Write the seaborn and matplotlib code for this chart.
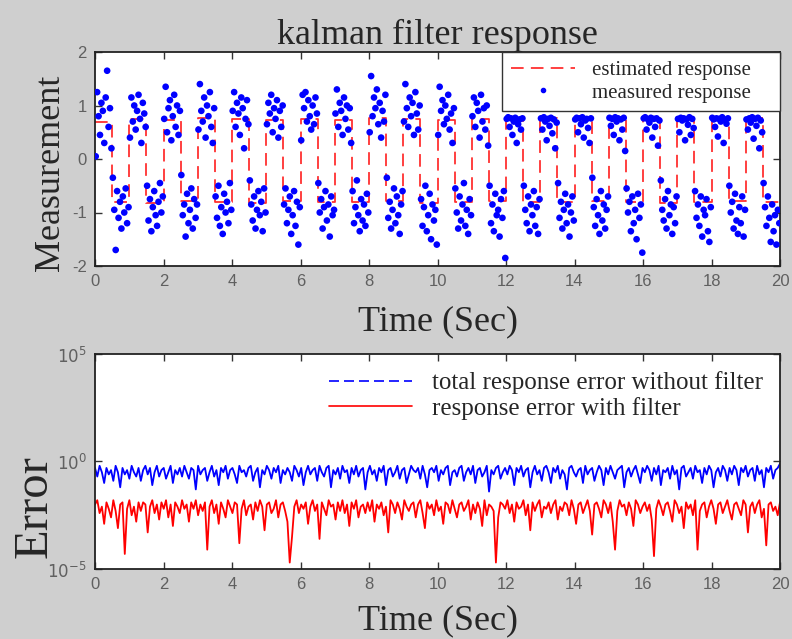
import numpy as np
import pandas as pd
import seaborn as sns
import matplotlib
matplotlib.use("Agg")
import matplotlib.pyplot as plt
from matplotlib.lines import Line2D

# ---------------- data ----------------
samples_per_sec = 24          # measured samples per second (top panel)
n_cycles = 20

# measured response, one row per 1-s cycle (12 samples high half, 12 samples low half)
meas_rows = [
    [0.05, 1.25, 0.80, 0.45, 1.05, 0.90, 0.30, 1.15, 1.65, 0.60, 0.95, 0.20, -0.35, -0.95, -1.70, -0.60, -1.10, -0.80, -1.30, -0.70, -1.00, -0.55, -1.20, -0.90],
    [0.40, 1.15, 0.70, 1.00, 0.55, 0.90, 1.20, 0.75, 0.30, 1.05, 0.85, 0.60, -0.50, -1.15, -0.75, -1.35, -0.90, -0.60, -1.05, -1.25, -0.80, -0.45, -1.00, -0.70],
    [0.75, 1.35, 0.50, 0.95, 1.10, 0.35, 0.80, 1.20, 0.60, 1.00, 0.45, 0.90, -0.30, -1.05, -0.85, -1.45, -0.65, -1.20, -0.95, -0.55, -1.30, -0.75, -1.10, -0.85],
    [0.55, 1.40, 0.90, 0.70, 1.15, 0.40, 1.00, 0.80, 1.25, 0.60, 0.30, 0.95, -0.70, -1.10, -0.50, -1.25, -0.90, -1.40, -0.65, -1.00, -0.80, -1.20, -0.45, -0.95],
    [0.90, 1.25, 0.60, 1.05, 0.85, 0.45, 1.15, 0.95, 0.20, 0.75, 1.10, 0.65, -0.40, -0.85, -1.15, -0.70, -1.30, -0.95, -0.60, -1.05, -0.80, -1.35, -0.55, -1.00],
    [0.65, 1.05, 0.85, 1.20, 0.50, 0.95, 0.75, 1.10, 0.40, 0.90, 0.60, 1.00, -0.85, -0.55, -1.20, -0.95, -0.70, -1.40, -1.05, -0.60, -1.25, -0.80, -1.60, -0.90],
    [0.35, 1.20, 0.95, 1.25, 0.70, 1.10, 0.80, 0.55, 1.00, 0.65, 1.15, 0.85, -0.45, -1.00, -0.75, -1.30, -0.90, -0.60, -1.15, -0.85, -1.45, -0.70, -1.05, -0.95],
    [0.85, 1.30, 0.60, 1.05, 0.90, 0.45, 1.15, 0.75, 1.00, 0.55, 0.95, 0.30, -0.60, -1.20, -0.90, -0.40, -1.05, -1.35, -0.75, -1.15, -0.85, -1.25, -0.65, -1.00],
    [0.50, 1.55, 0.80, 1.15, 0.95, 1.30, 0.65, 1.05, 0.40, 0.90, 0.70, 1.20, -0.35, -1.10, -0.80, -1.30, -0.95, -0.55, -1.20, -0.70, -1.05, -1.40, -0.85, -0.60],
    [0.70, 1.40, 0.95, 0.60, 1.15, 0.80, 1.05, 0.45, 1.25, 0.85, 0.55, 1.00, -0.75, -1.25, -0.90, -0.50, -1.35, -1.05, -0.65, -1.50, -0.85, -1.15, -0.95, -1.60],
    [0.45, 1.35, 0.90, 1.10, 0.65, 1.00, 0.75, 1.20, 0.55, 0.85, 0.30, 0.95, -0.55, -1.00, -1.30, -0.70, -1.15, -0.85, -0.45, -1.25, -0.95, -1.40, -0.75, -1.05],
    [0.80, 1.15, 0.60, 1.05, 0.90, 0.40, 1.20, 0.70, 0.95, 0.55, 1.00, 0.25, -0.50, -1.20, -0.85, -1.35, -0.65, -1.05, -0.95, -1.45, -0.75, -1.10, -0.60, -1.85],
    [0.75, 0.78, 0.60, 0.76, 0.45, 0.70, 0.77, 0.30, 0.65, 0.74, 0.55, 0.76, -0.50, -0.95, -1.20, -0.70, -1.35, -0.85, -1.05, -0.60, -1.25, -0.90, -1.40, -0.75],
    [0.76, 0.55, 0.78, 0.70, 0.35, 0.75, 0.62, 0.77, 0.48, 0.74, 0.20, 0.68, -0.45, -1.10, -0.80, -1.30, -0.95, -0.65, -1.20, -0.85, -1.45, -1.00, -0.70, -1.15],
    [0.74, 0.77, 0.50, 0.76, 0.65, 0.78, 0.40, 0.72, 0.75, 0.58, 0.30, 0.76, -0.35, -0.90, -1.25, -0.75, -1.05, -1.40, -0.60, -1.15, -0.85, -1.30, -0.95, -0.70],
    [0.77, 0.62, 0.75, 0.45, 0.78, 0.70, 0.76, 0.35, 0.74, 0.55, 0.77, 0.15, -0.55, -1.00, -0.80, -1.35, -0.70, -1.20, -0.95, -1.50, -0.65, -1.10, -0.85, -1.75],
    [0.76, 0.78, 0.55, 0.74, 0.68, 0.77, 0.40, 0.75, 0.60, 0.76, 0.25, 0.72, -0.40, -0.95, -1.15, -0.75, -1.30, -0.60, -1.05, -0.85, -1.40, -0.90, -1.20, -0.70],
    [0.75, 0.50, 0.77, 0.72, 0.76, 0.35, 0.74, 0.64, 0.78, 0.45, 0.75, 0.58, -0.60, -1.10, -0.85, -1.25, -0.70, -1.45, -0.95, -1.05, -0.75, -1.35, -1.55, -0.90],
    [0.77, 0.74, 0.60, 0.76, 0.42, 0.75, 0.70, 0.78, 0.30, 0.73, 0.66, 0.76, -0.50, -1.00, -0.80, -1.30, -0.65, -1.15, -1.40, -0.90, -1.20, -0.70, -1.45, -0.95],
    [0.74, 0.55, 0.76, 0.68, 0.78, 0.38, 0.75, 0.62, 0.77, 0.20, 0.72, 0.50, -0.45, -0.90, -1.25, -0.70, -1.10, -1.55, -0.85, -1.35, -1.05, -1.60, -0.95, -1.20],
]

# estimated response level for each half second
est_levels = [0.70, -0.80, 0.75, -0.82, 0.72, -0.78, 0.76, -0.80, 0.74, -0.83,
              0.73, -0.79, 0.75, -0.81, 0.72, -0.80, 0.76, -0.78, 0.74, -0.82,
              0.73, -0.80, 0.75, -0.79, 0.76, -0.80, 0.76, -0.81, 0.76, -0.79,
              0.76, -0.80, 0.76, -0.82, 0.76, -0.80, 0.76, -0.79, 0.76, -0.81]

# error (log10) without filter
err_nofilt_log = [
    -0.3, -0.7, -0.2, -0.5, -1.0, -0.3, -0.6, -0.4, -0.9, -0.2, -0.5, -1.2, -0.3, -0.6, -0.4, -0.8, -0.2, -0.5, -0.7, -0.3,
    -0.9, -0.4, -0.2, -0.6, -0.3, -1.1, -0.5, -0.2, -0.7, -0.4, -0.3, -0.8, -0.5, -0.2, -1.0, -0.4, -0.6, -0.3, -0.7, -0.2,
    -0.5, -0.8, -0.3, -0.4, -1.3, -0.2, -0.6, -0.4, -0.3, -0.9, -0.5, -0.2, -0.7, -0.4, -1.1, -0.3, -0.5, -0.2, -0.8, -0.4,
    -0.3, -0.6, -1.0, -0.2, -0.5, -0.4, -0.7, -0.3, -0.2, -0.9, -0.5, -0.3, -1.2, -0.4, -0.6, -0.2, -0.4, -0.8, -0.3, -0.5,
    -0.2, -1.0, -0.4, -0.6, -0.3, -0.5, -0.9, -0.2, -0.4, -0.7, -0.3, -1.1, -0.5, -0.2, -0.6, -0.4, -0.3, -0.9, -0.2, -0.5,
    -0.7, -0.3, -0.2, -1.2, -0.4, -0.6, -0.3, -0.8, -0.2, -0.5, -0.4, -1.0, -0.3, -0.6, -0.2, -0.7, -0.4, -0.3, -1.3, -0.5,
    -0.2, -0.6, -0.4, -0.9, -0.3, -0.5, -0.2, -1.1, -0.4, -0.3, -0.7, -0.5, -0.2, -0.8, -0.4, -0.3, -1.0, -0.6, -0.2, -0.4,
    -0.5, -0.3, -0.8, -0.2, -0.6, -1.2, -0.4, -0.3, -0.5, -0.2, -0.9, -0.4, -0.6, -0.3, -0.2, -1.1, -0.5, -0.4, -0.7, -0.3,
    -0.2, -0.9, -0.5, -0.3, -0.6, -0.2, -1.0, -0.4, -0.3, -0.7, -0.5, -0.2, -1.4, -0.4, -0.6, -0.3, -0.2, -0.8, -0.5, -0.3,
    -0.6, -0.2, -0.4, -1.1, -0.3, -0.5, -0.2, -0.7, -0.4, -0.3, -1.2, -0.5, -0.2, -0.6, -0.4, -0.9, -0.3, -0.2, -0.5, -1.0,
    -0.3, -0.5, -0.2, -0.8, -0.4, -0.6, -1.3, -0.3, -0.2, -0.5, -0.7, -0.4, -0.3, -1.0, -0.2, -0.6, -0.4, -0.3, -0.9, -0.5,
    -0.2, -0.4, -1.1, -0.3, -0.6, -0.2, -0.5, -0.8, -0.4, -0.3, -0.2, -1.2, -0.5, -0.3, -0.7, -0.4, -0.2, -0.6, -1.0, -0.3,
    -0.5, -0.2, -0.4, -0.9, -0.3, -0.6, -0.2, -1.1, -0.4, -0.5, -0.3, -0.8, -0.2, -0.6, -0.4, -1.3, -0.3, -0.2, -0.7, -0.5,
    -0.3, -0.8, -0.2, -0.5, -0.4, -1.0, -0.3, -0.6, -0.2, -0.4, -1.2, -0.5, -0.3, -0.7, -0.2, -0.4, -0.9, -0.3, -0.6, -0.2,
    -0.4, -1.1, -0.3, -0.5, -0.2, -0.7, -0.4, -0.3, -0.9, -0.2, -0.6, -0.4, -1.2, -0.3, -0.5, -0.2, -0.8, -0.4, -0.3, -0.1,
]

# error (log10) with filter
err_filt_log = [
    -2.0, -1.8, -2.4, -2.1, -2.9, -1.9, -2.2, -2.6, -1.8, -2.3, -3.1, -2.0, -1.9, -4.3, -2.2, -1.8, -2.5, -2.1, -2.8, -1.9,
    -2.3, -1.9, -2.0, -3.3, -2.1, -1.8, -2.4, -2.0, -2.7, -1.9, -2.2, -1.8, -2.6, -2.0, -3.0, -1.9, -2.1, -2.4, -1.8, -2.2,
    -2.0, -2.8, -1.9, -2.2, -1.8, -2.5, -2.0, -2.3, -1.9, -4.1, -2.1, -1.8, -2.4, -2.0, -2.9, -1.9, -2.2, -2.6, -1.8, -2.1,
    -2.4, -1.9, -2.0, -3.8, -2.2, -1.8, -2.5, -2.1, -2.0, -2.7, -1.9, -2.3, -1.8, -2.1, -3.2, -2.0, -1.9, -2.4, -2.2, -1.8,
    -2.6, -2.0, -1.9, -2.3, -2.8, -4.7, -3.5, -2.1, -1.8, -2.4, -2.0, -2.2, -1.9, -2.9, -2.1, -1.8, -2.3, -2.0, -3.6, -1.9,
    -2.2, -2.5, -1.8, -2.1, -2.0, -2.7, -1.9, -2.3, -1.8, -2.4, -2.0, -3.0, -1.9, -2.2, -1.8, -2.6, -2.1, -2.0, -2.4, -1.9,
    -2.3, -1.8, -2.8, -2.0, -2.2, -1.9, -2.5, -2.1, -3.3, -1.8, -2.0, -2.4, -1.9, -2.2, -2.7, -1.8, -2.1, -2.3, -2.0, -1.9,
    -2.6, -2.0, -1.8, -2.4, -3.1, -1.9, -2.2, -2.0, -2.5, -1.8, -2.3, -2.1, -2.9, -1.9, -2.0, -2.4, -1.8, -2.2, -2.6, -2.0,
    -1.9, -2.3, -2.1, -1.8, -2.7, -2.0, -2.4, -1.9, -2.2, -3.0, -1.8, -2.5, -2.0, -2.1, -2.3, -4.7, -2.6, -1.9, -2.0, -2.2,
    -1.8, -2.4, -2.0, -2.8, -1.9, -2.2, -2.1, -1.8, -2.5, -2.0, -3.2, -1.9, -2.3, -2.0, -1.8, -2.6, -2.1, -2.2, -1.9, -2.4,
    -2.0, -1.8, -2.7, -2.1, -2.3, -1.9, -2.0, -2.5, -1.8, -2.2, -2.9, -2.0, -1.9, -2.4, -2.1, -1.8, -2.3, -3.4, -2.0, -1.9,
    -2.2, -2.6, -1.8, -2.0, -2.4, -1.9, -2.8, -4.1, -2.3, -1.8, -2.1, -2.0, -2.5, -1.9, -2.2, -3.0, -1.8, -2.0, -2.4, -2.1,
    -1.9, -2.3, -2.0, -2.7, -4.4, -2.2, -1.8, -2.1, -2.5, -2.0, -1.9, -2.3, -2.8, -1.8, -2.0, -2.4, -2.1, -3.1, -1.9, -2.2,
    -2.0, -2.5, -1.8, -4.1, -2.3, -2.0, -1.9, -2.6, -2.1, -1.8, -2.2, -2.9, -2.0, -1.9, -2.4, -2.1, -1.8, -2.3, -2.7, -2.0,
    -1.9, -2.2, -2.5, -1.8, -2.0, -3.3, -2.1, -1.9, -2.4, -2.0, -1.8, -2.6, -2.2, -3.9, -2.0, -1.9, -2.3, -2.1, -2.5, -1.9,
]

x_ticks = [0, 2, 4, 6, 8, 10, 12, 14, 16, 18, 20]
y_ticks_top = [-2, -1, 0, 1, 2]
y_ticks_err = [1e-5, 1e0, 1e5]
y_ticklabels_err = [r"$10^{-5}$", r"$10^{0}$", r"$10^{5}$"]

# ---------------- tables ----------------
meas = np.concatenate(meas_rows)
t_meas = (np.arange(len(meas)) + 0.5) / samples_per_sec
df_meas = pd.DataFrame({"t": t_meas, "y": meas})

est_t = np.append(np.arange(len(est_levels)) * 0.5, n_cycles)
est_y = est_levels + [est_levels[-1]]
df_est = pd.DataFrame({"t": est_t, "y": est_y})

t_err = np.linspace(0, n_cycles, len(err_filt_log))
df_err = pd.DataFrame({"t": t_err,
                       "nofilt": 10.0 ** np.array(err_nofilt_log),
                       "filt": 10.0 ** np.array(err_filt_log)})

# ---------------- style ----------------
sns.set_style("ticks")
plt.rcParams.update({
    "font.family": ["Liberation Serif", "DejaVu Serif"],
    "axes.unicode_minus": False,
    "xtick.direction": "in",
    "ytick.direction": "in",
    "xtick.top": True,
    "ytick.right": True,
    "axes.edgecolor": "#222222",
    "axes.linewidth": 1.3,
})
tick_font = {"family": "Liberation Sans", "size": 12, "color": "#606060"}
serif = "Liberation Serif"

fig = plt.figure(figsize=(7.92, 6.39), dpi=100, facecolor="#cfcfcf")
W, H = 792.0, 639.0
ax1 = fig.add_axes([95 / W, 1 - 266 / H, 685 / W, 214 / H])
ax2 = fig.add_axes([95 / W, 1 - 569 / H, 685 / W, 215 / H])
for ax in (ax1, ax2):
    ax.set_facecolor("white")

# ---- top panel ----
sns.lineplot(data=df_est, x="t", y="y", ax=ax1, color="#ff3030", lw=1.3,
             linestyle=(0, (7, 4)), drawstyle="steps-post", estimator=None, zorder=2)
sns.scatterplot(data=df_meas, x="t", y="y", ax=ax1, color="#0000ff", s=23,
                edgecolor="none", linewidth=0, zorder=3)
ax1.set_xlim(0, 20)
ax1.set_ylim(-2, 2)
ax1.set_xticks(x_ticks)
ax1.set_yticks(y_ticks_top)
ax1.set_xticklabels([str(v) for v in x_ticks], fontdict=tick_font)
ax1.set_yticklabels([str(v) for v in y_ticks_top], fontdict=tick_font)
ax1.tick_params(length=5, width=1, colors="#333333", labelcolor="#606060", pad=6)
ax1.set_title("kalman filter response", fontsize=26, family=serif, pad=6)
ax1.set_xlabel("Time (Sec)", fontsize=26, family=serif)
ax1.set_ylabel("Measurement", fontsize=26, family=serif)
ax1.xaxis.set_label_coords(0.5, -0.185)
ax1.yaxis.set_label_coords(-0.041, 0.435)

h1 = [Line2D([], [], color="#ff3030", lw=1.3, linestyle=(0, (7, 4))),
      Line2D([], [], color="#0000ff", marker="o", markersize=3, linestyle="none")]
leg1 = ax1.legend(h1, ["estimated response    ", "measured response    "], loc="upper right",
                  prop={"family": serif, "size": 15}, frameon=True, fancybox=False,
                  edgecolor="#333333", framealpha=1, handlelength=3.1,
                  borderaxespad=0, labelspacing=0.15, borderpad=0.4)
leg1.get_frame().set_linewidth(1.0)

# ---- bottom panel ----
ax2.set_yscale("log")
sns.lineplot(data=df_err, x="t", y="nofilt", ax=ax2, color="#0000ff", lw=1.3, estimator=None)
sns.lineplot(data=df_err, x="t", y="filt", ax=ax2, color="#ff0000", lw=1.3, estimator=None)
ax2.set_xlim(0, 20)
ax2.set_ylim(1e-5, 1e5)
ax2.set_xticks(x_ticks)
ax2.set_xticklabels([str(v) for v in x_ticks], fontdict=tick_font)
ax2.set_yticks(y_ticks_err)
ax2.set_yticklabels(y_ticklabels_err, fontdict=tick_font)
ax2.yaxis.set_minor_locator(matplotlib.ticker.NullLocator())
ax2.tick_params(length=5, width=1, colors="#333333", labelcolor="#606060", pad=6)
ax2.set_xlabel("Time (Sec)", fontsize=26, family=serif)
ax2.set_ylabel("Error", fontsize=35, family=serif)
ax2.xaxis.set_label_coords(0.5, -0.165)
ax2.yaxis.set_label_coords(-0.056, 0.29)

h2 = [Line2D([], [], color="#0000ff", lw=1.2, linestyle=(0, (6, 3))),
      Line2D([], [], color="#ff0000", lw=1.2)]
ax2.legend(h2, ["total response error without filter", "response error with filter"],
           loc="upper right", prop={"family": serif, "size": 18}, frameon=False,
           handlelength=3.3, borderaxespad=0.3, labelspacing=0.1)

fig.savefig("out.png", dpi=100, facecolor=fig.get_facecolor())
